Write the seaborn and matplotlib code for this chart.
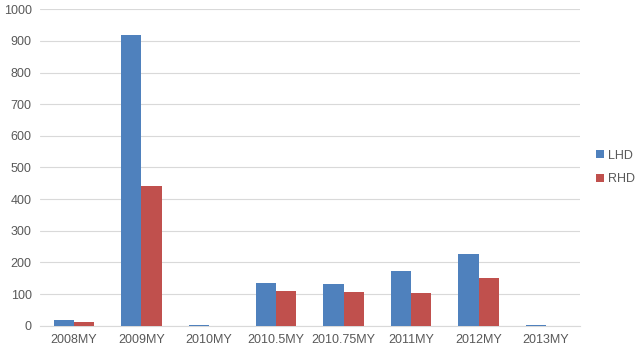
import pandas as pd
import matplotlib
matplotlib.use("Agg")
import matplotlib.pyplot as plt
import seaborn as sns

# --- Data ---
model_years = ["2008MY", "2009MY", "2010MY", "2010.5MY", "2010.75MY", "2011MY", "2012MY", "2013MY"]
lhd = [17, 920, 4, 136, 132, 173, 227, 4]
rhd = [11, 443, 0, 110, 107, 104, 151, 0]

df = pd.DataFrame({
    "year": model_years * 2,
    "value": lhd + rhd,
    "side": ["LHD"] * len(lhd) + ["RHD"] * len(rhd),
})

sns.set_style("white")
plt.rcParams["font.family"] = ["Liberation Sans", "DejaVu Sans"]

fig = plt.figure(figsize=(6.37, 3.53), dpi=100)
ax = fig.add_axes([0.063, 0.077, 0.847, 0.897])

sns.barplot(data=df, x="year", y="value", hue="side",
            palette=["#4F81BD", "#C0504D"], width=0.6, ax=ax, saturation=1,
            linewidth=0, zorder=3)

ax.set_ylim(0, 1000)
ax.set_yticks(range(0, 1001, 100))
ax.yaxis.grid(True, color="#D9D9D9", linewidth=0.8, zorder=0)
ax.set_axisbelow(True)
ax.set_xlabel(None)
ax.set_ylabel(None)
for s in ["left", "right", "top"]:
    ax.spines[s].set_visible(False)
ax.spines["bottom"].set_color("#D9D9D9")
ax.spines["bottom"].set_zorder(1)
ax.tick_params(axis="both", length=0, labelsize=9, colors="#595959", pad=6)

handles, labels = ax.get_legend_handles_labels()
ax.legend(handles, labels, loc="center left", bbox_to_anchor=(1.01, 0.5),
          frameon=False, fontsize=9, handlelength=0.6, handleheight=0.6,
          handletextpad=0.3, labelspacing=0.9, labelcolor="#595959")

fig.savefig("out.png", dpi=100)
